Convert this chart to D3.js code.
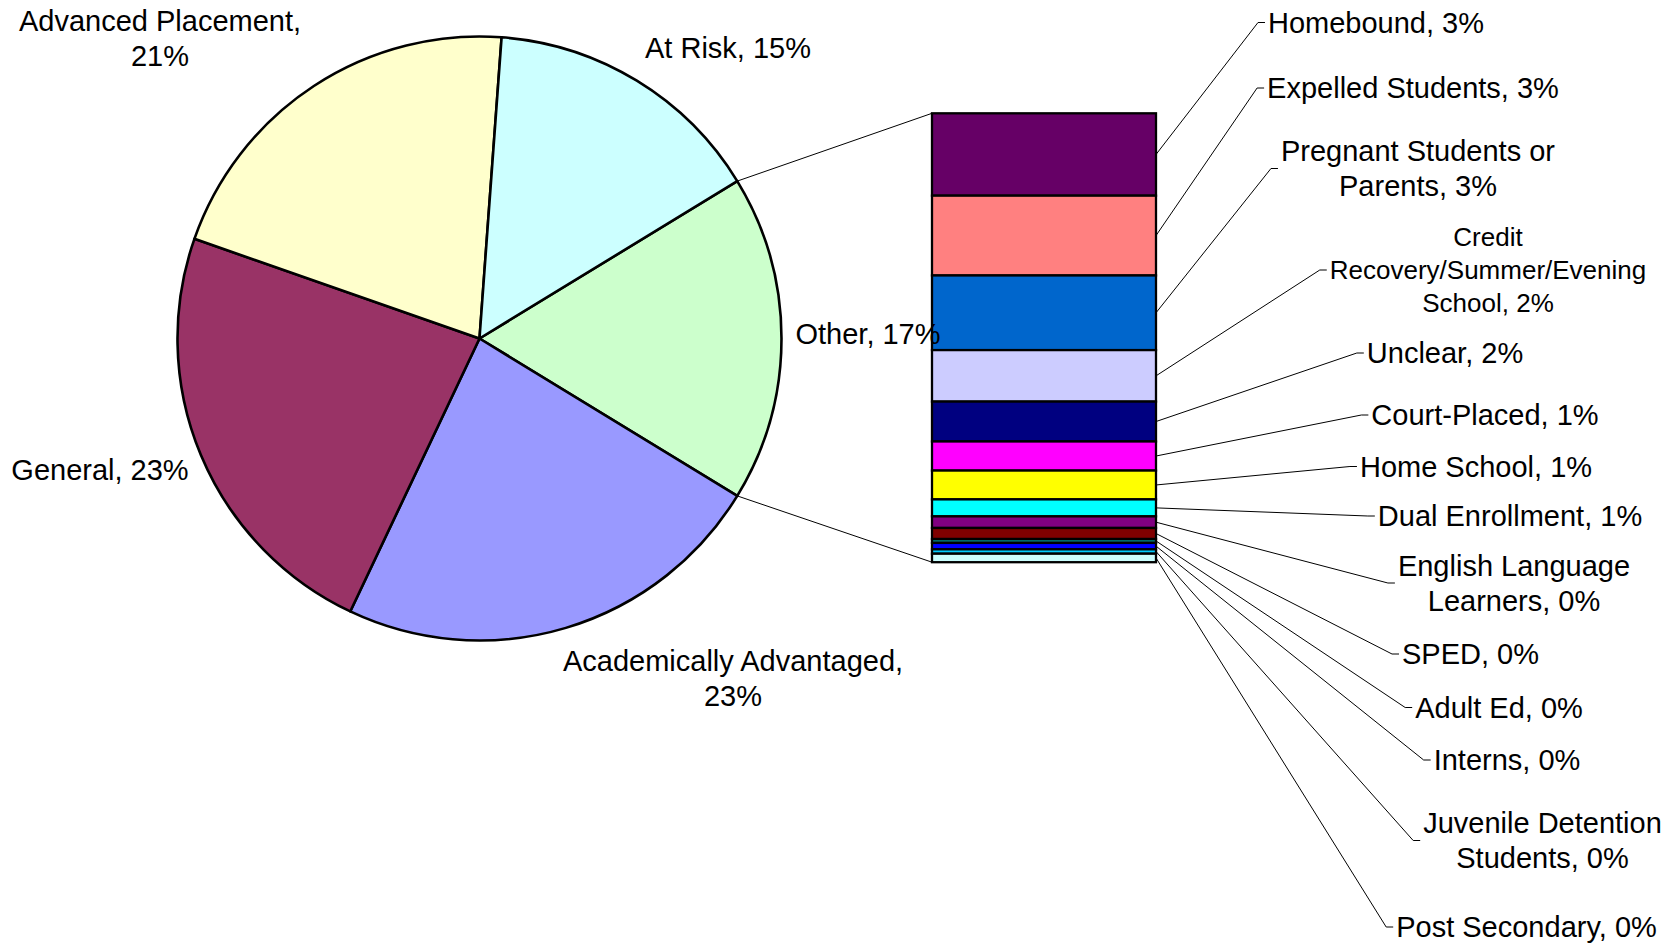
<!DOCTYPE html>
<html>
<head>
<meta charset="utf-8">
<script src="https://cdn.jsdelivr.net/npm/d3@7"></script>
<style>
  html, body { margin: 0; padding: 0; background: #fff; }
  svg { display: block; }
  text { font-family: "Liberation Sans", Arial, Helvetica, sans-serif; fill: #000; }
</style>
</head>
<body>
<svg id="chart" width="1678" height="947"></svg>
<script>
// ---------------- data ----------------
const pieCategories = ["Academically Advantaged", "General", "Advanced Placement", "At Risk"];
const pieValues     = [23.3, 23.3, 20.8, 15.1];
const otherCategory = "Other";

const barCategories = ["Homebound", "Expelled Students", "Pregnant Students or Parents",
  "Credit Recovery/Summer/Evening School", "Unclear", "Court-Placed", "Home School",
  "Dual Enrollment", "English Language Learners", "SPED", "Adult Ed", "Interns",
  "Juvenile Detention Students", "Post Secondary"];
const barValues = [3.2, 3.1, 2.9, 2.0, 1.55, 1.13, 1.12, 0.66, 0.45, 0.43, 0.15, 0.25, 0.17, 0.33];

// ---------------- styles ----------------
const pieColors = ["#9999FF", "#993366", "#FFFFCC", "#CCFFFF"];
const otherColor = "#CCFFCC";
const barColors = ["#660066", "#FF8080", "#0066CC", "#CCCCFF", "#000080", "#FF00FF", "#FFFF00",
  "#00FFFF", "#800080", "#800000", "#008080", "#0000FF", "#00CCFF", "#CCFFFF"];

// label line layout (text wrapping as in the original)
const labelLines = {
  "Advanced Placement": p => ["Advanced Placement,", p],
  "Academically Advantaged": p => ["Academically Advantaged,", p],
  "Pregnant Students or Parents": p => ["Pregnant Students or", "Parents, " + p],
  "Credit Recovery/Summer/Evening School": p => ["Credit", "Recovery/Summer/Evening", "School, " + p],
  "English Language Learners": p => ["English Language", "Learners, " + p],
  "Juvenile Detention Students": p => ["Juvenile Detention", "Students, " + p]
};
function linesFor(name, p) {
  return labelLines[name] ? labelLines[name](p) : [name + ", " + p];
}

// label placement (centre of label box)
const pieLabelPos = {
  "Other": [868, 334], "Academically Advantaged": [733, 678], "General": [100, 470],
  "Advanced Placement": [160, 38], "At Risk": [728, 48]
};
const barLabelPos = [[1376, 22.5], [1413, 88], [1418, 168.5], [1488, 270], [1445, 353],
  [1485, 415], [1476, 466.5], [1510, 516], [1514, 583], [1470.5, 654], [1499, 707.5],
  [1507, 760], [1542.5, 840.5], [1526.5, 927]];

// ---------------- layout ----------------
const svg = d3.select("#chart");
const cx = 479.5, cy = 338.5, R = 302;
const barX0 = 932, barX1 = 1156, barY0 = 113.3, barY1 = 562.2;
const FS = 29, LH = 35;

const otherTotal = d3.sum(barValues);
const pieData = [{name: otherCategory, value: otherTotal, color: otherColor}]
  .concat(pieCategories.map((c, i) => ({name: c, value: pieValues[i], color: pieColors[i]})));
const grand = d3.sum(pieData, d => d.value);
const pct = v => Math.round(v / grand * 100) + "%";

const a0 = Math.PI / 2 - Math.PI * (otherTotal / grand);
const pie = d3.pie().sort(null).value(d => d.value).startAngle(a0).endAngle(a0 + 2 * Math.PI);
const arcs = pie(pieData);
const arc = d3.arc().innerRadius(0).outerRadius(R);

const gPie = svg.append("g").attr("transform", `translate(${cx},${cy})`);
gPie.selectAll("path").data(arcs).join("path")
  .attr("d", arc)
  .attr("fill", d => d.data.color)
  .attr("stroke", "#000")
  .attr("stroke-width", 2.6)
  .attr("stroke-linejoin", "round");

// connector lines from Other slice to bar
const otherArc = arcs[0];
const pt = a => [cx + R * Math.sin(a), cy - R * Math.cos(a)];
const y = d3.scaleLinear().domain([0, otherTotal]).range([barY0, barY1]);
const pA = pt(otherArc.startAngle), pB = pt(otherArc.endAngle);
svg.append("line").attr("x1", pA[0]).attr("y1", pA[1]).attr("x2", barX0).attr("y2", y(0))
  .attr("stroke", "#000").attr("stroke-width", 1);
svg.append("line").attr("x1", pB[0]).attr("y1", pB[1]).attr("x2", barX0).attr("y2", y(otherTotal))
  .attr("stroke", "#000").attr("stroke-width", 1);

// stacked bar
let cum = 0;
const barData = barCategories.map((c, i) => {
  const d = {name: c, value: barValues[i], color: barColors[i], start: cum, end: cum + barValues[i]};
  cum += barValues[i];
  return d;
});
svg.append("g").selectAll("rect").data(barData).join("rect")
  .attr("x", barX0)
  .attr("width", barX1 - barX0)
  .attr("y", d => y(d.start))
  .attr("height", d => y(d.end) - y(d.start))
  .attr("fill", d => d.color)
  .attr("stroke", "#000")
  .attr("stroke-width", 2.3);

// text helper
function drawLabel(g, lines, x, ycen, fs, lh) {
  const t = g.append("text").attr("text-anchor", "middle").attr("font-size", fs);
  const n = lines.length;
  lines.forEach((s, i) => {
    t.append("tspan").attr("x", x)
      .attr("y", ycen + (i - (n - 1) / 2) * lh + 0.36 * fs)
      .text(s);
  });
  let w = 0;
  t.selectAll("tspan").each(function () { w = Math.max(w, this.getComputedTextLength()); });
  return w;
}

// bar labels + leader lines
const gBL = svg.append("g");
const gLead = svg.append("g");
barData.forEach((d, i) => {
  const [lx, ly] = barLabelPos[i];
  const isCredit = d.name.startsWith("Credit");
  const fs = isCredit ? 26 : FS, lh = isCredit ? 33 : LH;
  const w = drawLabel(gBL, linesFor(d.name, pct(d.value)), lx, ly, fs, lh);
  const left = lx - w / 2;
  const sy = y((d.start + d.end) / 2);
  gLead.append("polyline")
    .attr("points", `${barX1},${sy} ${left - 10},${ly} ${left - 3},${ly}`)
    .attr("fill", "none").attr("stroke", "#000").attr("stroke-width", 1);
});

// pie labels (drawn last, on top)
const gPL = svg.append("g");
arcs.forEach(a => {
  const [lx, ly] = pieLabelPos[a.data.name];
  drawLabel(gPL, linesFor(a.data.name, pct(a.data.value)), lx, ly, FS, LH);
});
</script>
</body>
</html>
